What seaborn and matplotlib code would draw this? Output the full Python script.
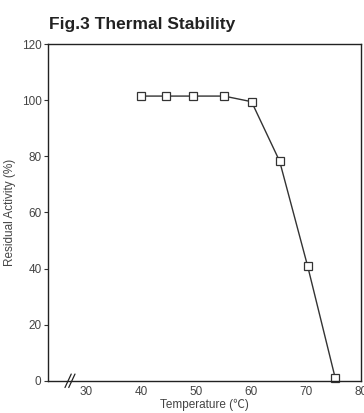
import pandas as pd
import matplotlib
matplotlib.use('Agg')
import matplotlib.pyplot as plt
import seaborn as sns

temperature = [40, 44.6, 49.4, 55.1, 60.1, 65.2, 70.3, 75.3]
activity = [101.5, 101.5, 101.5, 101.5, 99.5, 78.3, 40.8, 1.0]
x_ticks = [30, 40, 50, 60, 70, 80]
y_ticks = [0, 20, 40, 60, 80, 100, 120]

sns.set_style('ticks')
plt.rcParams['font.family'] = ['Liberation Sans', 'Noto Sans CJK JP', 'DejaVu Sans']

df = pd.DataFrame({'Temperature': temperature, 'Activity': activity})

fig = plt.figure(figsize=(3.64, 4.13), dpi=100)
ax = fig.add_axes([0.133, 0.078, 0.859, 0.815])

sns.lineplot(
    data=df, x='Temperature', y='Activity', ax=ax,
    color='#333333', linewidth=1.0, marker='s', markersize=6,
    markerfacecolor='white', markeredgecolor='#333333', markeredgewidth=0.9,
    clip_on=False
)

ax.set_xlim(23.2, 80)
ax.set_ylim(0, 120)
ax.set_xticks(x_ticks)
ax.set_yticks(y_ticks)
ax.tick_params(axis='both', direction='out', length=3, width=0.8,
               labelsize=8.5, labelcolor='#444444', color='#333333', pad=2)
ax.tick_params(axis='x', bottom=False, pad=1)
for side in ['left', 'right', 'top', 'bottom']:
    ax.spines[side].set_color('#222222')
    ax.spines[side].set_linewidth(1.0)

ax.set_xlabel('Temperature (℃)', fontsize=8.5, color='#444444', labelpad=0)
ax.set_ylabel('Residual Activity (%)', fontsize=8.5, color='#444444', labelpad=4)

# axis break mark
for dx in (0, 0.012):
    ax.plot([0.053 + dx, 0.073 + dx], [-0.02, 0.02], transform=ax.transAxes,
            color='#222222', linewidth=0.9, clip_on=False)

fig.text(0.135, 0.94, 'Fig.3 Thermal Stability', fontsize=12.5,
         fontweight='bold', color='#222222', ha='left', va='center')

fig.savefig('out.png', dpi=100)
